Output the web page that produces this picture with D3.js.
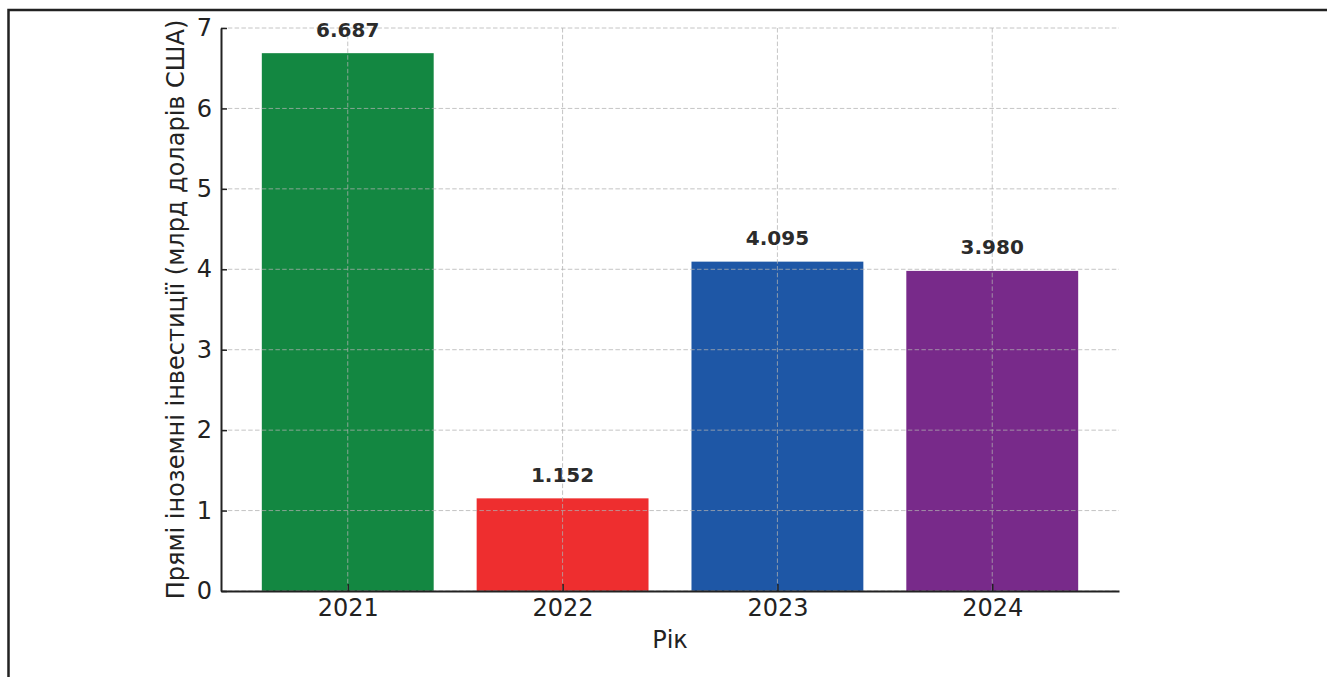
<!DOCTYPE html>
<html>
<head>
<meta charset="utf-8">
<script src="https://cdn.jsdelivr.net/npm/d3@7"></script>
<style>
  body { margin: 0; background: #fff; }
  text { font-family: "DejaVu Sans", sans-serif; }
</style>
</head>
<body>
<div id="chart-area"></div>
<script>
// data
var years = ["2021", "2022", "2023", "2024"];
var fdi = [6.687, 1.152, 4.095, 3.980];
var barColors = ["#138741", "#ee2e2f", "#1e57a6", "#782a8a"];
var yTicks = [0, 1, 2, 3, 4, 5, 6, 7];

var width = 1327, height = 677;
var margin = { top: 28, left: 221, right: 1327 - 1119, bottom: 677 - 591 };
var charWidth = width - margin.left - margin.right;
var charHeight = height - margin.top - margin.bottom;

var svg = d3.select("#chart-area")
  .append("svg")
  .attr("width", width)
  .attr("height", height);

// outer frame (top + left edges)
svg.append("path")
  .attr("d", "M8.5,677 L8.5,10 L1327,10")
  .attr("fill", "none")
  .attr("stroke", "#222")
  .attr("stroke-width", 2.5);

var g = svg.append("g")
  .attr("transform", "translate(" + margin.left + "," + margin.top + ")");

// linear x to mimic matplotlib bar positions (-0.59 .. 3.59)
var x = d3.scaleLinear()
  .domain([-0.59, years.length - 1 + 0.59])
  .range([0, charWidth]);
var barW = x(0.8) - x(0);

var y = d3.scaleLinear()
  .domain([0, 7])
  .range([charHeight, 0]);

// bars
g.selectAll("rect.bar")
  .data(fdi)
  .enter().append("rect")
  .attr("class", "bar")
  .attr("x", (d, i) => x(i) - barW / 2)
  .attr("y", d => y(d))
  .attr("width", barW)
  .attr("height", d => charHeight - y(d))
  .attr("fill", (d, i) => barColors[i]);

// grid on top of bars
var grid = g.append("g").attr("class", "grid");
grid.selectAll("line.h")
  .data(yTicks)
  .enter().append("line")
  .attr("x1", 0).attr("x2", charWidth)
  .attr("y1", d => y(d)).attr("y2", d => y(d));
grid.selectAll("line.v")
  .data(years)
  .enter().append("line")
  .attr("x1", (d, i) => x(i)).attr("x2", (d, i) => x(i))
  .attr("y1", 0).attr("y2", charHeight);
grid.selectAll("line")
  .attr("stroke", "#b0b0b0")
  .attr("stroke-opacity", 0.75)
  .attr("stroke-width", 1)
  .attr("stroke-dasharray", "4.5,2.3");

// value labels
g.selectAll("text.val")
  .data(fdi)
  .enter().append("text")
  .attr("class", "val")
  .attr("x", (d, i) => x(i))
  .attr("y", d => y(d) - 16.5)
  .attr("text-anchor", "middle")
  .attr("font-size", "20px")
  .attr("font-weight", "bold")
  .attr("fill", "#2b2b2b")
  .text(d => d.toFixed(3));

// axes
var yAxisG = g.append("g")
  .call(d3.axisLeft(y).tickValues(yTicks).tickFormat(d3.format("d"))
    .tickSizeInner(-6).tickSizeOuter(0).tickPadding(9));
var xAxisG = g.append("g")
  .attr("transform", "translate(0," + charHeight + ")")
  .call(d3.axisBottom(x).tickValues(d3.range(years.length)).tickFormat(i => years[i])
    .tickSizeInner(-7).tickSizeOuter(0).tickPadding(8));

[yAxisG, xAxisG].forEach(a => {
  a.attr("font-size", null).attr("font-family", null);
  a.select(".domain").attr("stroke", "#222").attr("stroke-width", 2);
  a.selectAll(".tick line").attr("stroke", "#222").attr("stroke-width", 1.5);
  a.selectAll(".tick text")
    .style("font-family", "DejaVu Sans, sans-serif")
    .style("font-size", "24px")
    .attr("fill", "#222");
});

// axis titles
svg.append("text")
  .attr("x", margin.left + charWidth / 2)
  .attr("y", 648)
  .attr("text-anchor", "middle")
  .attr("font-size", "24px")
  .attr("fill", "#222")
  .text("Рік");

svg.append("text")
  .attr("transform", "translate(184," + (margin.top + charHeight / 2) + ") rotate(-90)")
  .attr("text-anchor", "middle")
  .attr("font-size", "24px")
  .attr("fill", "#222")
  .text("Прямі іноземні інвестиції (млрд доларів США)");
</script>
</body>
</html>
